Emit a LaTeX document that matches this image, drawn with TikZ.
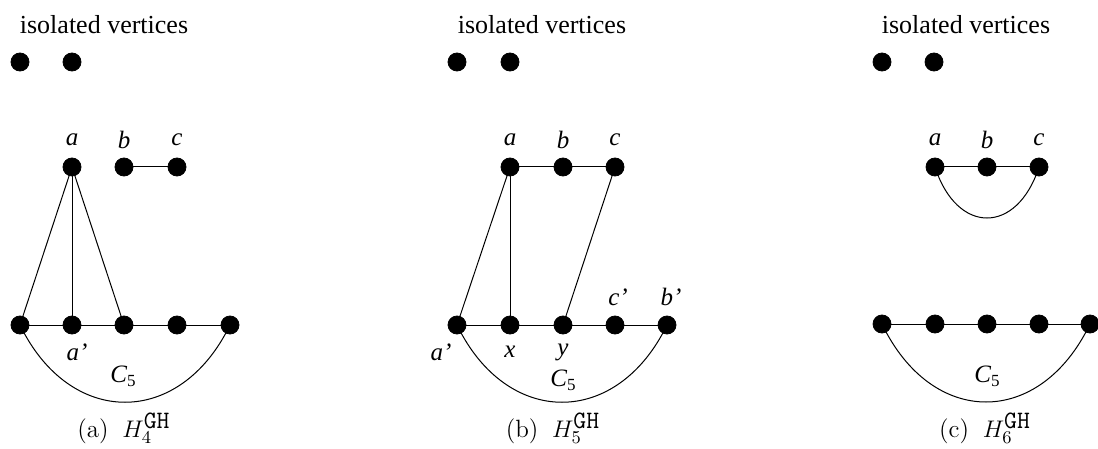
\documentclass[tikz,border=0pt]{standalone}
\usepackage{fontspec}
\newfontfamily\tms{Liberation Serif}
\begin{document}
\begin{tikzpicture}[x=0.5pt,y=-0.5pt,
  vtx/.style={circle,fill=black,draw=black,inner sep=0pt,minimum size=9pt},
  lbl/.style={inner sep=0pt,font=\tms\itshape\fontsize{12.5}{14}\selectfont},
  ttl/.style={inner sep=0pt,font=\tms\fontsize{13}{15}\selectfont},
  captxt/.style={inner sep=0pt,anchor=base,font=\fontsize{12.5}{14}\selectfont},
  edge/.style={line width=0.5pt}]
\useasboundingbox (0,0) rectangle (1098,449);
\newcommand{\cfive}{C\raisebox{-0.35ex}{\fontsize{8.5}{9}\selectfont\upshape 5}}
\newcommand{\capsp}{\hspace{0.55em}}

% ---------- (a) ----------
\node[ttl] (ta) at (104,25) {isolated vertices};
\node[vtx] (ia1) at (20,62) {};
\node[vtx] (ia2) at (72,62) {};
\node[vtx] (aa) at (72,167) {};
\node[vtx] (ab) at (124,167) {};
\node[vtx] (ac) at (177,167) {};
\node[lbl] (laa) at (72,140) {a};
\node[lbl] (lab) at (124,140) {b};
\node[lbl] (lac) at (177,140) {c};
\node[vtx] (au1) at (20,325) {};
\node[vtx] (au2) at (72,325) {};
\node[vtx] (au3) at (124,325) {};
\node[vtx] (au4) at (177,325) {};
\node[vtx] (au5) at (230,325) {};
\node[lbl] (lap) at (77,352) {a’};
\node[lbl] (lac5) at (123,376) {\cfive};
\draw[edge] (ab) -- (ac);
\draw[edge] (aa.center) -- (au1.center);
\draw[edge] (aa.center) -- (au2.center);
\draw[edge] (aa.center) -- (au3.center);
\draw[edge] (au1) -- (au2) -- (au3) -- (au4) -- (au5);
\draw[edge] (au1.center) .. controls +(50,103) and +(-50,103) .. (au5.center);
\node[captxt] (capa) at (124,437) {(a)\capsp$H_4^{\texttt{GH}}$};

% ---------- (b) ----------
\node[ttl] (tb) at (542,25) {isolated vertices};
\node[vtx] (ib1) at (457,62) {};
\node[vtx] (ib2) at (510,62) {};
\node[vtx] (ba) at (510,167) {};
\node[vtx] (bb) at (563,167) {};
\node[vtx] (bc) at (615,167) {};
\node[lbl] (lba) at (510,140) {a};
\node[lbl] (lbb) at (563,140) {b};
\node[lbl] (lbc) at (615,140) {c};
\node[vtx] (bu1) at (457,325) {};
\node[vtx] (bu2) at (510,325) {};
\node[vtx] (bu3) at (563,325) {};
\node[vtx] (bu4) at (615,325) {};
\node[vtx] (bu5) at (667,325) {};
\node[lbl] (lbap) at (441,352) {a’};
\node[lbl] (lbx) at (510,352) {x};
\node[lbl] (lby) at (563,352) {y};
\node[lbl] (lbcp) at (618,297) {c’};
\node[lbl] (lbbp) at (671,297) {b’};
\node[lbl] (lbc5) at (563,380) {\cfive};
\draw[edge] (ba) -- (bb) -- (bc);
\draw[edge] (ba.center) -- (bu1.center);
\draw[edge] (ba.center) -- (bu2.center);
\draw[edge] (bc.center) -- (bu3.center);
\draw[edge] (bu1) -- (bu2) -- (bu3) -- (bu4) -- (bu5);
\draw[edge] (bu1.center) .. controls +(50,103) and +(-50,103) .. (bu5.center);
\node[captxt] (capb) at (553,437) {(b)\capsp$H_5^{\texttt{GH}}$};

% ---------- (c) ----------
\node[ttl] (tc) at (966,25) {isolated vertices};
\node[vtx] (ic1) at (882,62) {};
\node[vtx] (ic2) at (934,62) {};
\node[vtx] (ca) at (935,167) {};
\node[vtx] (cb) at (987,167) {};
\node[vtx] (cc) at (1039,167) {};
\node[lbl] (lca) at (935,140) {a};
\node[lbl] (lcb) at (987,140) {b};
\node[lbl] (lcc) at (1039,140) {c};
\draw[edge] (ca) -- (cb) -- (cc);
\draw[edge] (ca.center) .. controls +(22,68) and +(-22,68) .. (cc.center);
\node[vtx] (cu1) at (882,324) {};
\node[vtx] (cu2) at (935,324) {};
\node[vtx] (cu3) at (987,324) {};
\node[vtx] (cu4) at (1039,324) {};
\node[vtx] (cu5) at (1090,324) {};
\node[lbl] (lcc5) at (987,376) {\cfive};
\draw[edge] (cu1) -- (cu2) -- (cu3) -- (cu4) -- (cu5);
\draw[edge] (cu1.center) .. controls +(50,104) and +(-50,104) .. (cu5.center);
\node[captxt] (capc) at (985,437) {(c)\capsp$H_6^{\texttt{GH}}$};
\end{tikzpicture}
\end{document}
